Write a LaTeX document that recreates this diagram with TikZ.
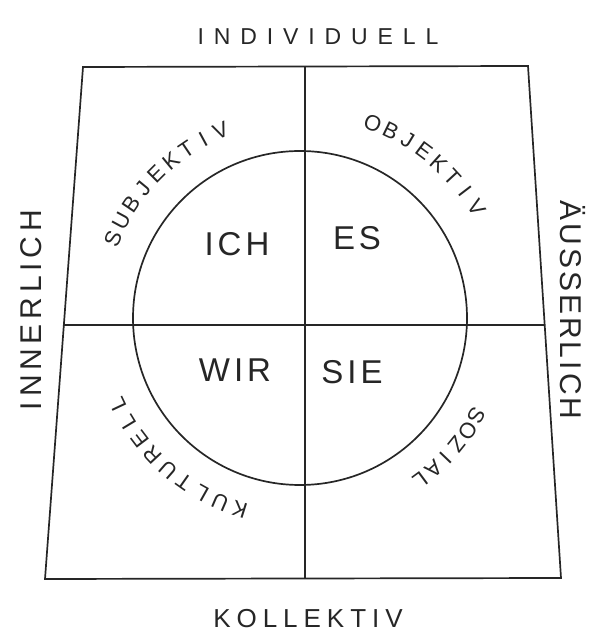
\documentclass[tikz,border=0pt]{standalone}
\usepackage{fontspec}
\setmainfont{Liberation Sans}
\usetikzlibrary{calc}
\begin{document}
\begin{tikzpicture}[x=1pt,y=1pt,
  ink/.style={draw=black!85, line width=1.7pt},
  quad/.style={text=black!85, inner sep=0pt, font={\fontsize{33}{33}\selectfont\addfontfeature{LetterSpace=12}}},
  arcl/.style={text=black!85, inner sep=0pt, font={\fontsize{22}{22}\selectfont}},
  toplbl/.style={text=black!85, inner sep=0pt, font={\fontsize{23}{23}\selectfont\addfontfeature{LetterSpace=43}}},
  botlbl/.style={text=black!85, inner sep=0pt, font={\fontsize{26}{26}\selectfont\addfontfeature{LetterSpace=23}}},
  leftlbl/.style={text=black!85, inner sep=0pt, font={\fontsize{30}{30}\selectfont\addfontfeature{LetterSpace=16}}},
  rightlbl/.style={text=black!85, inner sep=0pt, font={\fontsize{30}{30}\selectfont\addfontfeature{LetterSpace=10}}}
]
\useasboundingbox (0,0) rectangle (604,632);
% frame corners
\coordinate (TL) at (83,565);
\coordinate (TR) at (528,566);
\coordinate (BR) at (561,54);
\coordinate (BL) at (45,53);
\coordinate (VT) at (305,566);
\coordinate (VB) at (305,53);
\coordinate (HL) at ($(BL)!0.496!(TL)$);
\coordinate (HR) at ($(BR)!0.494!(TR)$);
\coordinate (O) at (300,314);
\draw[ink] (TL) -- (TR) -- (BR) -- (BL) -- cycle;
\draw[ink] (VT) -- (VB);
\draw[ink] (HL) -- (HR);
\draw[ink] (O) circle[radius=167];
% quadrant labels
\node[quad] (ich) at (237,388) {ICH};
\node[quad] (es) at (357,394) {ES};
\node[quad] (wir) at (235,262) {WIR};
\node[quad] (sie) at (352,260) {SIE};
% outer labels
\node[toplbl] (indiv) at (318,595) {INDIVIDUELL};
\node[botlbl] (koll) at (308,13) {KOLLEKTIV};
\node[leftlbl, rotate=90] (inner) at (31,322) {INNERLICH};
\node[rightlbl, rotate=-90] (aeuss) at (573,322) {ÄUSSERLICH};
% arc labels
\foreach \ch [count=\i from 0] in {S,U,B,J,E,K,T,I,V}
  \node[arcl, rotate={157-5.5*\i-90}] (subj\i) at ($(O)+({157-5.5*\i}:203)$) {\ch};
\foreach \ch [count=\i from 0] in {O,B,J,E,K,T,I,V}
  \node[arcl, rotate={69.5-5.36*\i-90}] (obj\i) at ($(O)+({69.5-5.36*\i}:208)$) {\ch};
\foreach \ch [count=\i from 0] in {K,U,L,T,U,R,E,L,L}
  \node[arcl, rotate={252.5-5.9*\i-90}] (kult\i) at ($(O)+({252.5-5.9*\i}:201)$) {\ch};
\foreach \ch [count=\i from 0] in {S,O,Z,I,A,L}
  \node[arcl, rotate={331-4.9*\i-90}] (soz\i) at ($(O)+({331-4.9*\i}:202)$) {\ch};
\end{tikzpicture}
\end{document}
